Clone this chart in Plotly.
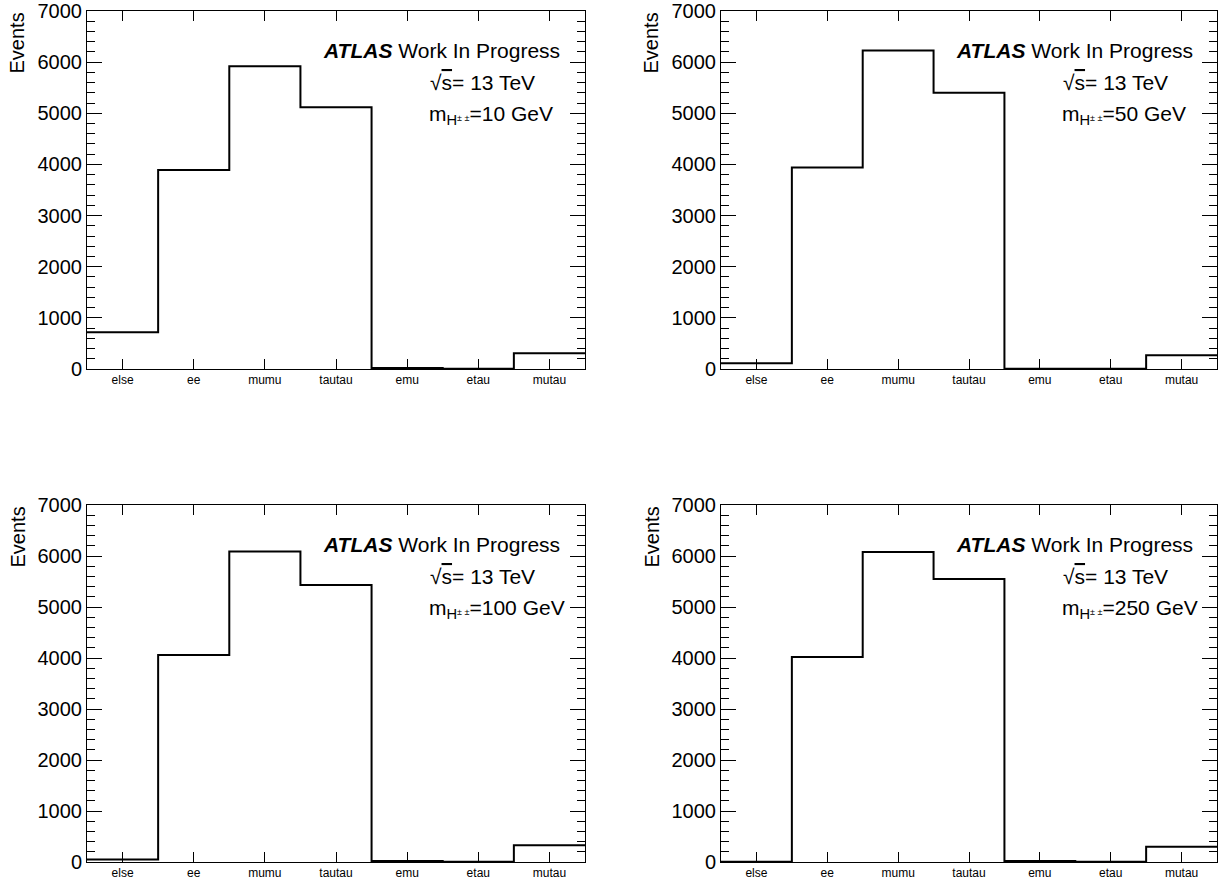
import plotly.graph_objects as go

categories = ["else", "ee", "mumu", "tautau", "emu", "etau", "mutau"]
masses = ["10", "50", "100", "250"]
events_m10 = [720, 3890, 5920, 5120, 20, 5, 310]
events_m50 = [110, 3940, 6230, 5400, 5, 5, 270]
events_m100 = [50, 4060, 6090, 5430, 20, 5, 330]
events_m250 = [5, 4020, 6080, 5550, 20, 5, 300]
series = [events_m10, events_m50, events_m100, events_m250]
y_ticks = [0, 1000, 2000, 3000, 4000, 5000, 6000, 7000]

W, H = 1228, 884
FONT = "Liberation Sans, Arial, Helvetica, sans-serif"
# panel pixel boxes (x0, x1, ytop, ybottom)
panels = [(87, 585, 11, 369), (721, 1217, 11, 369),
          (87, 585, 505, 862), (721, 1217, 505, 862)]

fig = go.Figure()
edges = list(range(len(categories) + 1))


def px(x):
    return x / W


def py(y):
    return 1 - y / H


for i, (vals, (x0, x1, yt, yb)) in enumerate(zip(series, panels)):
    n = i + 1
    xa = "x" if n == 1 else f"x{n}"
    ya = "y" if n == 1 else f"y{n}"
    fig.add_trace(go.Scatter(
        x=edges, y=vals + [vals[-1]], mode="lines", line_shape="hv",
        line=dict(color="black", width=2), xaxis=xa, yaxis=ya,
        showlegend=False, hoverinfo="skip"))
    xkey = "xaxis" if n == 1 else f"xaxis{n}"
    ykey = "yaxis" if n == 1 else f"yaxis{n}"
    fig.layout[xkey] = dict(
        domain=[x0 / W, x1 / W], anchor=ya, range=[0, len(categories)],
        tickmode="array", tickvals=[k + 0.5 for k in range(len(categories))],
        ticktext=categories, ticks="inside", ticklen=10, tickcolor="black",
        showline=True, linecolor="black", linewidth=1, mirror="allticks",
        showgrid=False, zeroline=False, automargin=False, ticklabelstandoff=0,
        tickfont=dict(family=FONT, size=12, color="black"))
    fig.layout[ykey] = dict(
        domain=[1 - yb / H, 1 - yt / H], anchor=xa, range=[0, 7000],
        tickmode="array", tickvals=y_ticks, ticks="inside", ticklen=15,
        tickcolor="black", showline=True, linecolor="black", linewidth=1,
        mirror="allticks", showgrid=False, zeroline=False, automargin=False,
        minor=dict(dtick=200, ticks="inside", ticklen=8, tickcolor="black", showgrid=False),
        tickfont=dict(family=FONT, size=20, color="black"))

    ann_font = dict(family=FONT, size=21, color="black")
    fig.add_annotation(x=px(x0 + 0.47 * (x1 - x0)), y=py(yt + 39), xref="paper", yref="paper",
                       text="<b><i>ATLAS</i></b> Work In Progress", showarrow=False,
                       xanchor="left", yanchor="middle", font=ann_font)
    fig.add_annotation(x=px(x0 + 0.685 * (x1 - x0)), y=py(yt + 71), xref="paper", yref="paper",
                       text="√<span style='text-decoration:overline'>s</span>= 13 TeV",
                       showarrow=False, xanchor="left", yanchor="middle", font=ann_font)
    fig.add_annotation(x=px(x0 + 0.683 * (x1 - x0)), y=py(yt + 104), xref="paper", yref="paper",
                       text=f"m<sub>H</sub><span style='font-size:9px'>± ±</span>={masses[i]} GeV",
                       showarrow=False, xanchor="left", yanchor="middle", font=ann_font)
    fig.add_annotation(x=px(x0 - 70), y=py(yt), xref="paper", yref="paper",
                       text="Events", textangle=-90, showarrow=False,
                       xanchor="center", yanchor="top",
                       font=dict(family=FONT, size=20, color="black"))

fig.update_layout(width=W, height=H, margin=dict(l=0, r=0, t=0, b=0),
                  paper_bgcolor="white", plot_bgcolor="white",
                  font=dict(family=FONT, color="black"))
fig.write_html("out.html")
